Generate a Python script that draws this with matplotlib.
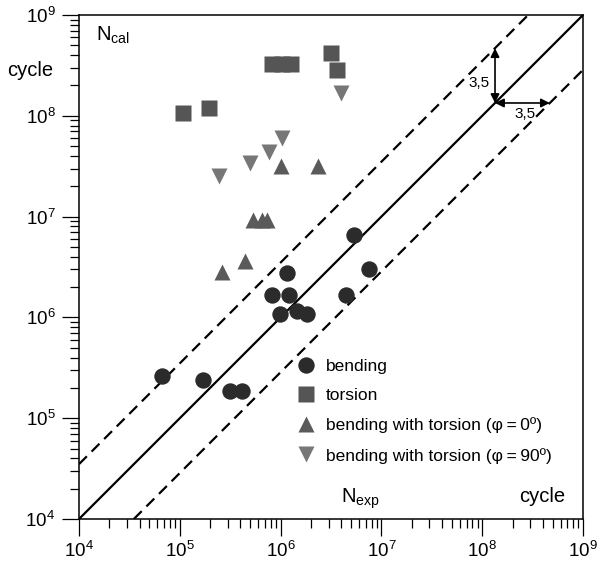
import matplotlib
matplotlib.use("Agg")
import numpy as np
import matplotlib.pyplot as plt
from matplotlib.ticker import LogLocator

plt.rcParams['font.family'] = ['Liberation Sans', 'DejaVu Sans']
plt.rcParams['mathtext.fontset'] = 'custom'
plt.rcParams['mathtext.rm'] = 'Liberation Sans'
plt.rcParams['mathtext.it'] = 'Liberation Sans:italic'
plt.rcParams['mathtext.bf'] = 'Liberation Sans:bold'

# Experimental vs calculated fatigue life (cycles)
bending_exp = [6.7e4, 1.7e5, 3.15e5, 4.1e5, 1.17e6, 8.3e5, 1.21e6, 9.9e5,
               1.47e6, 1.84e6, 4.5e6, 7.6e6, 5.3e6]
bending_cal = [2.6e5, 2.4e5, 1.86e5, 1.86e5, 2.74e6, 1.67e6, 1.67e6, 1.08e6,
               1.16e6, 1.07e6, 1.67e6, 3.0e6, 6.6e6]

torsion_exp = [1.08e5, 1.96e5, 8.3e5, 1.03e6, 1.28e6, 3.14e6, 3.6e6]
torsion_cal = [1.06e8, 1.19e8, 3.3e8, 3.3e8, 3.3e8, 4.17e8, 2.85e8]

bt0_exp = [1.01e6, 2.33e6, 5.3e5, 6.5e5, 7.3e5, 2.64e5, 4.4e5]
bt0_cal = [3.2e7, 3.2e7, 9.25e6, 9.25e6, 9.25e6, 2.85e6, 3.6e6]

bt90_exp = [4.0e6, 1.04e6, 7.7e5, 5.0e5, 2.43e5]
bt90_cal = [1.7e8, 6.0e7, 4.4e7, 3.4e7, 2.5e7]

labels = ["bending", "torsion",
          "bending with torsion (\u03c6\u2009=\u20090\u00ba)",
          "bending with torsion (\u03c6\u2009=\u200990\u00ba)"]

scatter_factor = 3.5
arrow_at = 1.34e8
lo, hi = 1e4, 1e9

fig = plt.figure(figsize=(5.99, 5.66), dpi=100)
ax = fig.add_axes([79 / 599, 47 / 566, 504 / 599, 504 / 566])
ax.set_xscale('log')
ax.set_yscale('log')
ax.set_xlim(lo, hi)
ax.set_ylim(lo, hi)

# agreement line and scatter band
line_x = np.array([lo, hi])
ax.plot(line_x, line_x, color='black', lw=1.6, zorder=2)
up_x = np.array([lo, hi / scatter_factor])
ax.plot(up_x, up_x * scatter_factor, color='black', lw=1.6,
        dashes=(5, 3), zorder=2)
dn_x = np.array([lo * scatter_factor, hi])
ax.plot(dn_x, dn_x / scatter_factor, color='black', lw=1.6,
        dashes=(5, 3), zorder=2)

ax.plot(bending_exp, bending_cal, 'o', ms=11.8, color='#2b2b2b',
        mec='none', label=labels[0], zorder=3)
ax.plot(torsion_exp, torsion_cal, 's', ms=12, color='#555555',
        mec='none', label=labels[1], zorder=3)
ax.plot(bt0_exp, bt0_cal, '^', ms=11, color='#5a5a5a',
        mec='none', label=labels[2], zorder=3)
ax.plot(bt90_exp, bt90_cal, 'v', ms=11, color='#777777',
        mec='none', label=labels[3], zorder=3)

# band width arrows
arrow_kw = dict(arrowstyle='<|-|>', color='black', lw=1.2,
                mutation_scale=13, shrinkA=0, shrinkB=0)
ax.annotate('', xy=(arrow_at, arrow_at * scatter_factor),
            xytext=(arrow_at, arrow_at), arrowprops=arrow_kw)
ax.annotate('', xy=(arrow_at * scatter_factor, arrow_at),
            xytext=(arrow_at, arrow_at), arrowprops=arrow_kw)
ax.annotate('3,5', xy=(arrow_at, arrow_at * np.sqrt(scatter_factor)),
            xytext=(-4, -5.5), textcoords='offset points',
            ha='right', va='center', fontsize=11)
ax.annotate('3,5', xy=(arrow_at * np.sqrt(scatter_factor), arrow_at),
            xytext=(1.5, -3), textcoords='offset points',
            ha='center', va='top', fontsize=11)

ax.text(0.033, 0.96, r'N$_{\mathrm{cal}}$', transform=ax.transAxes,
        fontsize=14.5, ha='left', va='center')
ax.text(0.52, 0.04, r'N$_{\mathrm{exp}}$', transform=ax.transAxes,
        fontsize=14.5, ha='left', va='center')
ax.text(0.965, 0.045, 'cycle', transform=ax.transAxes,
        fontsize=14.5, ha='right', va='center')
ax.text(-0.052, 0.89, 'cycle', transform=ax.transAxes,
        fontsize=14.5, ha='right', va='center')

leg = ax.legend(loc='upper left', bbox_to_anchor=(0.434, 0.318),
                frameon=False, fontsize=12.5, handlelength=1.0,
                handletextpad=0.6, labelspacing=0.82, borderaxespad=0,
                borderpad=0)

for axis in (ax.xaxis, ax.yaxis):
    axis.set_major_locator(LogLocator(base=10, numticks=10))
    axis.set_minor_locator(LogLocator(base=10, subs=np.arange(2, 10),
                                      numticks=20))
ax.tick_params(which='major', direction='out', length=12, width=0.9,
               labelsize=13.5, pad=4)
ax.tick_params(which='minor', direction='out', length=6.5, width=0.9)
ax.tick_params(axis='y', which='major', pad=5)
for sp in ax.spines.values():
    sp.set_linewidth(1.1)

fig.savefig('out.png', dpi=100)
